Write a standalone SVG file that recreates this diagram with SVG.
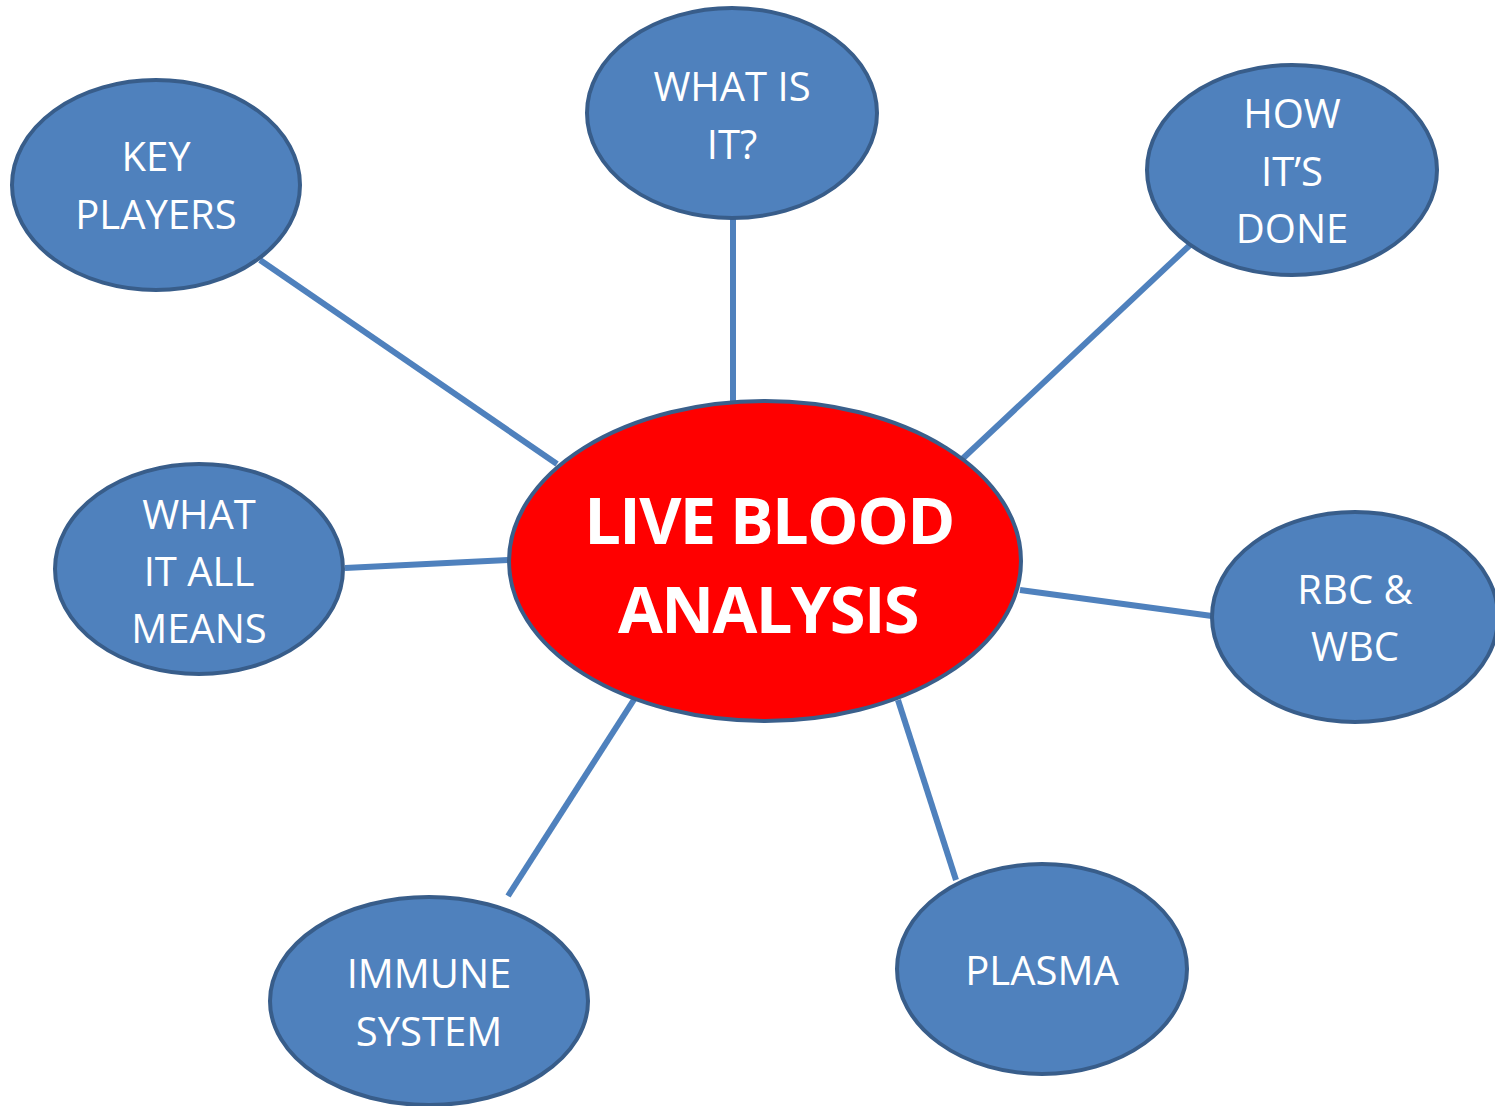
<svg xmlns="http://www.w3.org/2000/svg" width="1495" height="1106" viewBox="0 0 1495 1106">
<style>
.n{fill:#4F81BD;stroke:#385D8A;stroke-width:4}
.c{fill:#FF0000;stroke:#3A5F8B;stroke-width:4}
.t{fill:#fff;font-family:"Open Sans","Liberation Sans",sans-serif;font-size:40px;text-anchor:middle}
.tt{fill:#fff;font-family:"Open Sans","Liberation Sans",sans-serif;font-size:65px;font-weight:bold;text-anchor:middle;letter-spacing:-1.6px}
.e{stroke:#4F81BD;stroke-width:6;fill:none}
</style>
<rect width="1495" height="1106" fill="#fff"/>
<g id="connectors">
<line class="e" x1="260" y1="260" x2="557" y2="464"/>
<line class="e" x1="733" y1="218" x2="733" y2="401"/>
<line class="e" x1="1190" y1="245" x2="958" y2="463"/>
<line class="e" x1="345" y1="568" x2="508" y2="560"/>
<line class="e" x1="1020" y1="590" x2="1212" y2="616"/>
<line class="e" x1="898" y1="700" x2="956" y2="880"/>
<line class="e" x1="635" y1="698" x2="508" y2="896"/>
</g>
<g id="key-players"><ellipse class="n" cx="156" cy="185" rx="144" ry="105"/><text class="t" x="156" y="171">KEY</text><text class="t" x="156" y="229">PLAYERS</text></g>
<g id="what-is-it"><ellipse class="n" cx="732" cy="113" rx="145" ry="105"/><text class="t" x="732" y="101">WHAT IS</text><text class="t" x="732" y="159">IT?</text></g>
<g id="how-its-done"><ellipse class="n" cx="1292" cy="170" rx="145" ry="105"/><text class="t" x="1292" y="128">HOW</text><text class="t" x="1292" y="186">IT’S</text><text class="t" x="1292" y="243">DONE</text></g>
<g id="what-it-all-means"><ellipse class="n" cx="199" cy="569" rx="144" ry="105"/><text class="t" x="199" y="529">WHAT</text><text class="t" x="199" y="586">IT ALL</text><text class="t" x="199" y="643">MEANS</text></g>
<g id="rbc-wbc"><ellipse class="n" cx="1355" cy="617" rx="143" ry="105"/><text class="t" x="1355" y="604">RBC &amp;</text><text class="t" x="1355" y="661">WBC</text></g>
<g id="plasma"><ellipse class="n" cx="1042" cy="969" rx="145" ry="105"/><text class="t" x="1042" y="985">PLASMA</text></g>
<g id="immune-system"><ellipse class="n" cx="429" cy="1001" rx="159" ry="104"/><text class="t" x="429" y="988">IMMUNE</text><text class="t" x="429" y="1046">SYSTEM</text></g>
<g id="live-blood-analysis"><ellipse class="c" cx="765" cy="561" rx="256" ry="160"/><text class="tt" x="769" y="544">LIVE BLOOD</text><text class="tt" x="768" y="633">ANALYSIS</text></g>
</svg>
